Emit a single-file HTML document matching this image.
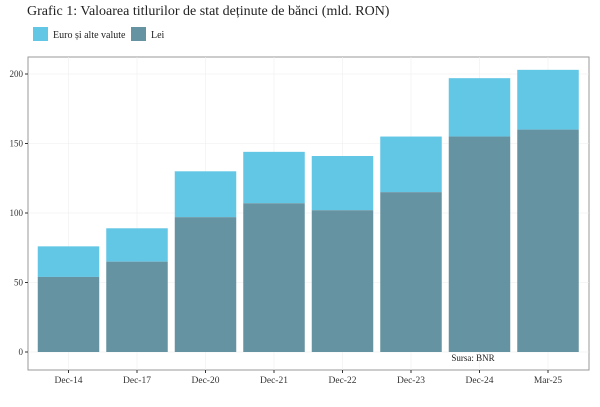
<!DOCTYPE html>
<html><head><meta charset="utf-8"><style>
body{margin:0;background:#fff;font-family:"Liberation Serif","DejaVu Serif",serif;}
svg text{font-family:"Liberation Serif","DejaVu Serif",serif;}
</style></head><body>
<svg id="c" width="600" height="402" xmlns="http://www.w3.org/2000/svg">
<text x="27" y="15" font-size="14" fill="#222">Grafic 1: Valoarea titlurilor de stat deținute de bănci (mld. RON)</text>
<rect x="33" y="27" width="15" height="14" fill="#62c6e5"/>
<text x="53" y="38" font-size="10" fill="#222">Euro și alte valute</text>
<rect x="131" y="27" width="15" height="14" fill="#6693a2"/>
<text x="151" y="38" font-size="10" fill="#222">Lei</text>
<rect x="28" y="57" width="561" height="313" fill="#fff" stroke="#999" stroke-width="1"/>
<g id="grid"></g><g id="bars"></g><g id="axes"></g>
<text x="473" y="361" font-size="9" text-anchor="middle" fill="#222">Sursa: BNR</text>
</svg>
<script>
const categories=["Dec-14","Dec-17","Dec-20","Dec-21","Dec-22","Dec-23","Dec-24","Mar-25"];
const lei=[54,65,97,107,102,115,155,160];
const total=[76,89,130,144,141,155,197,203];
const yTicks=[0,50,100,150,200];
const NS="http://www.w3.org/2000/svg";
const y=v=>352-v*1.39;
const x=i=>68.5+i*68.5;
const bw=61.5;
function mk(t,a,p){const e=document.createElementNS(NS,t);for(const k in a)e.setAttribute(k,a[k]);p.appendChild(e);return e;}
const g=document.getElementById('grid'),b=document.getElementById('bars'),ax=document.getElementById('axes');
yTicks.forEach(v=>{
 const l=mk('line',{x1:28,x2:589,y1:y(v),y2:y(v),stroke:'#eee','stroke-width':0.6},g);
 
 
 const tk=mk('line',{x1:25,x2:28,y1:y(v),y2:y(v),stroke:'#333'},ax);
 
 
 const t=mk('text',{x:23,y:y(v)+3,'font-size':9,'text-anchor':'end',fill:'#333'},ax);t.textContent=v;
 
 
});
categories.forEach((c,i)=>{
 const gl=mk('line',{x1:x(i),x2:x(i),y1:57,y2:370,stroke:'#eee','stroke-width':0.6},g);
 
 
 const r1=mk('rect',{x:x(i)-bw/2,y:y(total[i]),width:bw,height:y(lei[i])-y(total[i]),fill:'#62c6e5'},b);
 
 
 const r2=mk('rect',{x:x(i)-bw/2,y:y(lei[i]),width:bw,height:y(0)-y(lei[i]),fill:'#6693a2'},b);
 
 
 const tk=mk('line',{x1:x(i),x2:x(i),y1:370,y2:373,stroke:'#333'},ax);
 
 
 const t=mk('text',{x:x(i),y:383,'font-size':9.5,'text-anchor':'middle',fill:'#333'},ax);t.textContent=c;
 
 
});
</script>
</body></html>
